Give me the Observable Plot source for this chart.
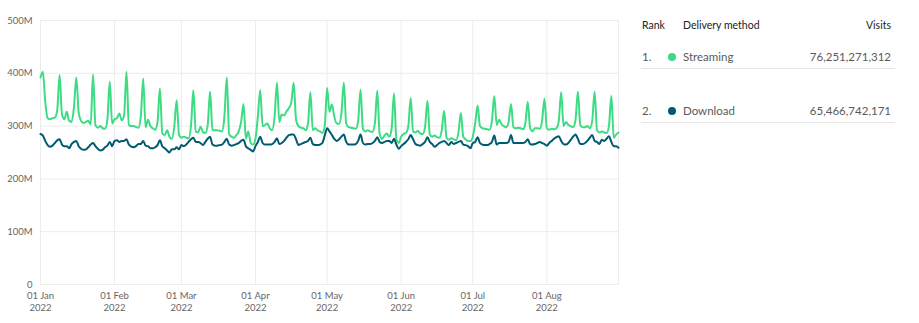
<!DOCTYPE html>
<html>
<head>
<meta charset="utf-8">
<script src="https://cdn.jsdelivr.net/npm/d3@7"></script>
<script src="https://cdn.jsdelivr.net/npm/@observablehq/plot@0.6"></script>
<style>
  body { margin: 0; background: #fff; font-family: Lato, "Noto Sans", sans-serif; }
  #wrap { position: relative; width: 919px; height: 323px; }
  #chart { position: absolute; left: 0; top: 0; }
  .lg { position: absolute; white-space: nowrap; line-height: 1; }
  .hd { font-size: 10.5px; color: #222; }
  .rw { font-size: 11.5px; color: #5a5a5a; }
  .sep { position: absolute; left: 641px; width: 254px; height: 1px; background: #e6e6e6; }
  .dot { position: absolute; width: 8px; height: 8px; border-radius: 50%; }
</style>
</head>
<body>
<div id="wrap">
  <div id="chart"></div>
</div>
<script>
// ---- data ----
const startDate = "2022-01-01";
const endDate = "2022-08-31";
const seriesNames = ["Streaming", "Download"];
const seriesColors = ["#3ddc84", "#005a70"];
const totals = ["76,251,271,312", "65,466,742,171"];

// daily visits in millions, Jan 1 .. Aug 31 2022
const streaming = [
  392, 403,
  345, 315, 313, 315, 316, 330, 397,
  322, 313, 327, 310, 308, 335, 392,
  325, 310, 306, 308, 310, 303, 398,
  302, 297, 300, 296, 295, 312, 384,
  305, 313, 315, 324, 311, 320, 403,
  302, 300, 300, 298, 297, 318, 390,
  298, 312, 300, 296, 293, 308, 371,
  286, 283, 292, 280, 276, 298, 349,
  284, 278, 280, 278, 277, 300, 368,
  290, 288, 299, 289, 287, 302, 365,
  293, 292, 292, 291, 290, 318, 392,
  284, 280, 278, 283, 290, 308, 342,
  276, 290, 268, 265, 276, 318, 368,
  300, 302, 305, 296, 292, 318, 382,
  308, 322, 320, 328, 334, 345, 382,
  312, 300, 297, 296, 292, 305, 364,
  292, 296, 292, 290, 287, 300, 372,
  327, 341, 318, 305, 304, 325, 382,
  305, 298, 297, 296, 295, 310, 369,
  295, 290, 292, 290, 289, 305, 367,
  285, 276, 282, 286, 280, 295, 362,
  275, 268, 280, 285, 287, 300, 353,
  290, 288, 291, 286, 285, 298, 348,
  284, 280, 282, 279, 278, 292, 329,
  278, 274, 277, 275, 273, 288, 325,
  280, 275, 272, 272, 280, 305, 339,
  300, 296, 295, 294, 293, 310, 357,
  302, 312, 304, 300, 298, 308, 342,
  298, 296, 297, 296, 294, 305, 346,
  296, 290, 296, 296, 295, 310, 352,
  296, 293, 295, 294, 296, 310, 364,
  300, 308, 302, 300, 298, 312, 365,
  302, 298, 298, 300, 296, 310, 365,
  292, 288, 290, 288, 287, 300, 357,
  278, 284, 288
];
const download = [
  285, 282,
  272, 264, 261, 263, 268, 273, 275,
  265, 262, 262, 258, 266, 270, 272,
  262, 257, 255, 256, 260, 265, 268,
  262, 257, 254, 255, 260, 263, 270,
  262, 272, 273, 270, 272, 272, 275,
  265, 261, 260, 262, 266, 266, 272,
  263, 262, 258, 258, 260, 264, 273,
  262, 258, 254, 250, 256, 256, 260,
  256, 264, 262, 265, 270, 275, 278,
  270, 270, 268, 264, 270, 276, 280,
  265, 263, 263, 264, 265, 270, 276,
  265, 263, 264, 266, 268, 272, 274,
  262, 258, 255, 252, 262, 270, 280,
  268, 265, 265, 265, 266, 270, 277,
  266, 268, 272, 278, 283, 284, 284,
  275, 264, 266, 268, 270, 272, 278,
  266, 264, 264, 265, 268, 282, 296,
  290, 283, 276, 272, 275, 280, 284,
  270, 265, 265, 265, 266, 272, 284,
  268, 265, 266, 266, 268, 272, 279,
  270, 268, 270, 272, 272, 268, 276,
  265, 257, 262, 266, 270, 275, 283,
  275, 266, 264, 263, 266, 270, 279,
  270, 266, 261, 264, 268, 270, 272,
  268, 264, 270, 266, 268, 270, 272,
  265, 264, 262, 258, 268, 270, 279,
  268, 265, 264, 264, 266, 270, 282,
  265, 268, 268, 268, 268, 270, 283,
  268, 268, 268, 268, 268, 270, 275,
  266, 265, 266, 268, 270, 268, 266,
  263, 268, 272, 276, 279, 281, 272,
  266, 265, 268, 274, 280, 284, 276,
  266, 266, 268, 272, 278, 283, 272,
  270, 266, 274, 272, 276, 281, 270,
  262, 262, 259
];
const yTicks = [0, 100e6, 200e6, 300e6, 400e6, 500e6];

// ---- build ----
const dates = d3.utcDay.range(new Date(startDate), d3.utcDay.offset(new Date(endDate), 1));
const rows = [];
[streaming, download].forEach((arr, si) => {
  arr.forEach((v, i) => rows.push({ date: dates[i], value: v * 1e6, series: seriesNames[si] }));
});

const fmtTop = d3.utcFormat("%d %b");
const fmtYr = d3.utcFormat("%Y");
const monthTicks = d3.utcMonth.range(new Date(startDate), new Date(endDate));

const chart = Plot.plot({
  width: 625,
  height: 323,
  marginLeft: 40,
  marginRight: 7,
  marginTop: 20,
  marginBottom: 39,
  style: { fontFamily: "Lato, 'Noto Sans', sans-serif", fontSize: "9.5px", color: "#666", background: "#fff" },
  x: { type: "utc", domain: [new Date(startDate), new Date(endDate)] },
  y: { domain: [0, 500e6] },
  color: { domain: seriesNames, range: seriesColors },
  marks: [
    Plot.gridY(yTicks, { stroke: "#ececec", strokeOpacity: 1 }),
    Plot.gridX(monthTicks, { stroke: "#ececec", strokeOpacity: 1 }),
    Plot.frame({ stroke: "#ececec" }),
    Plot.axisY(yTicks, { tickFormat: d => d === 0 ? "0" : (d / 1e6) + "M", tickSize: 0, tickPadding: 8, label: null }),
    Plot.axisX(monthTicks, { tickFormat: d => fmtTop(d) + "\n" + fmtYr(d), tickSize: 0, tickPadding: 6, lineHeight: 1.25, label: null }),
    Plot.lineY(rows, { x: "date", y: "value", z: "series", stroke: "series", strokeWidth: 2, curve: "monotone-x" })
  ]
});
document.getElementById("chart").appendChild(chart);

// ---- legend table ----
const wrap = document.getElementById("wrap");
function add(html) { wrap.insertAdjacentHTML("beforeend", html); }
add(`<div class="lg hd" style="left:642px;top:20px">Rank</div>`);
add(`<div class="lg hd" style="left:683px;top:20px">Delivery method</div>`);
add(`<div class="lg hd" style="right:${919-891}px;top:20px">Visits</div>`);
const rowY = [57, 111];
seriesNames.forEach((name, i) => {
  const y = rowY[i];
  add(`<div class="lg rw" style="left:642px;top:${y-6}px">${i+1}.</div>`);
  add(`<div class="dot" style="left:668px;top:${y-4}px;background:${seriesColors[i]}"></div>`);
  add(`<div class="lg rw" style="left:683px;top:${y-6}px">${name}</div>`);
  add(`<div class="lg rw" style="right:${919-891}px;top:${y-6}px">${totals[i]}</div>`);
  add(`<div class="sep" style="top:${y+11}px"></div>`);
});
</script>
</body>
</html>
